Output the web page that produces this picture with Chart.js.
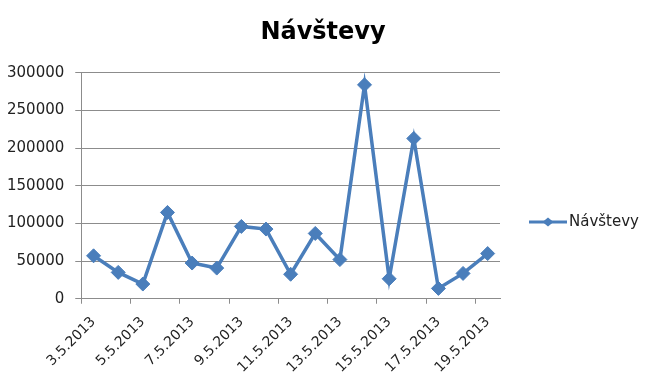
<!DOCTYPE html>
<html>
<head>
<meta charset="utf-8">
<script src="https://cdn.jsdelivr.net/npm/chart.js@4"></script>
<style>
  html, body { margin: 0; padding: 0; background: #fff; }
  #wrap { width: 650px; height: 386px; }
</style>
</head>
<body>
<div id="wrap"><canvas id="chart"></canvas></div>
<script>
// Datos del gráfico
var dias = ['3.5.2013', '4.5.2013', '5.5.2013', '6.5.2013', '7.5.2013', '8.5.2013',
            '9.5.2013', '10.5.2013', '11.5.2013', '12.5.2013', '13.5.2013', '14.5.2013',
            '15.5.2013', '16.5.2013', '17.5.2013', '18.5.2013', '19.5.2013'];
var navstevy = [57000, 35000, 19500, 114600, 47400, 40700, 96000, 92500, 32500,
                86700, 52000, 284000, 26500, 212800, 13700, 33600, 60000];
var nazovSerie = 'Návštevy';
var nadpis = 'Návštevy';

var modra = '#4a7ebb';
var sedaMriezka = '#8c8c8c';
var font = 'DejaVu Sans';

// Leyenda dibujada a mano (línea con rombo a la derecha)
var legendaVpravo = {
  id: 'legendaVpravo',
  afterDraw: function(chart) {
    var ctx = chart.ctx;
    var ds = chart.data.datasets[0];
    var y = 222;
    ctx.save();
    ctx.strokeStyle = ds.borderColor;
    ctx.lineWidth = 3;
    ctx.beginPath();
    ctx.moveTo(529, y);
    ctx.lineTo(567, y);
    ctx.stroke();
    ctx.fillStyle = ds.pointBackgroundColor;
    ctx.beginPath();
    ctx.moveTo(548, y - 4.5);
    ctx.lineTo(553.5, y);
    ctx.lineTo(548, y + 4.5);
    ctx.lineTo(542.5, y);
    ctx.closePath();
    ctx.fill();
    ctx.fillStyle = '#222';
    ctx.font = '15px "' + font + '"';
    ctx.textBaseline = 'middle';
    ctx.textAlign = 'left';
    ctx.fillText(ds.label, 569, y);
    ctx.restore();
  }
};

var chart = new Chart(document.getElementById('chart').getContext('2d'), {
  type: 'line',
  data: {
    labels: dias,
    datasets: [{
      label: nazovSerie,
      data: navstevy,
      borderColor: modra,
      backgroundColor: modra,
      borderWidth: 3.5,
      pointStyle: 'rectRot',
      pointRadius: 7,
      pointHoverRadius: 7,
      pointBackgroundColor: modra,
      pointBorderColor: modra,
      pointBorderWidth: 1,
      tension: 0
    }]
  },
  options: {
    responsive: true,
    maintainAspectRatio: false,
    animation: false,
    layout: { padding: { left: -4, right: 0, top: 0, bottom: 0 } },
    plugins: {
      legend: { display: false },
      tooltip: { enabled: false },
      title: {
        display: true,
        text: nadpis,
        color: '#000',
        font: { family: font, size: 24, weight: 'bold' },
        padding: { top: 18, bottom: 26 }
      }
    },
    scales: {
      x: {
        offset: true,
        grid: {
          offset: true,
          drawOnChartArea: false,
          tickLength: 5,
          color: function(c) {
            return (c.index !== undefined && c.index % 2 === 0) ? sedaMriezka : 'rgba(0,0,0,0)';
          }
        },
        border: { color: sedaMriezka },
        ticks: {
          autoSkip: false,
          minRotation: 45,
          maxRotation: 45,
          padding: 10,
          color: '#222',
          font: { family: font, size: 14 },
          callback: function(v, i) { return i % 2 === 0 ? this.getLabelForValue(v) : ''; }
        }
      },
      y: {
        min: 0,
        max: 300000,
        grid: { color: sedaMriezka, tickLength: 6 },
        border: { color: sedaMriezka },
        ticks: {
          stepSize: 50000,
          padding: 11,
          color: '#222',
          font: { family: font, size: 15 },
          callback: function(v) { return String(v); }
        }
      },
      // miesto vpravo pre legendu
      miesto: {
        type: 'linear',
        position: 'right',
        display: true,
        grid: { display: false },
        border: { display: false },
        ticks: { display: false },
        afterFit: function(scale) { scale.width = 150; }
      }
    }
  },
  plugins: [legendaVpravo]
});
</script>
</body>
</html>
